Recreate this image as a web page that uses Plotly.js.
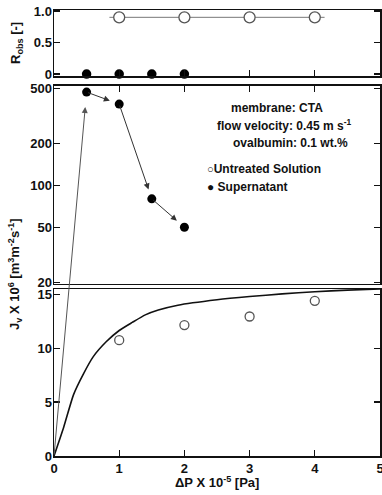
<!DOCTYPE html>
<html>
<head>
<meta charset="utf-8">
<script src="https://cdn.plot.ly/plotly-3.0.1.min.js"></script>
<style>html,body{margin:0;padding:0;background:#fff;}#chart{width:382px;height:495px;}</style>
</head>
<body>
<div id="chart"></div>
<script>
// ---- data ----
const robsUntreatedX = [1, 2, 3, 4];
const robsUntreatedY = [0.9, 0.9, 0.9, 0.9];
const robsFitX = [0.85, 4.15];
const robsFitY = [0.9, 0.9];
const robsSuperX = [0.5, 1, 1.5, 2];
const robsSuperY = [0, 0, 0, 0];

const superX = [0.5, 1, 1.5, 2];
const superJ = [470, 385, 80, 50];

const untreatedX = [1, 2, 3, 4];
const untreatedJ = [10.75, 12.15, 12.95, 14.4];

const curveX = [0, 0.15, 0.3, 0.45, 0.6, 0.8, 1.0, 1.2, 1.4, 1.6, 1.9, 2.5, 3.0, 3.5, 4.0, 4.5, 5.0];
const curveJ = [0, 2.7, 5.7, 7.6, 9.2, 10.6, 11.65, 12.4, 13.1, 13.55, 14.0, 14.5, 14.8, 15.05, 15.25, 15.4, 15.5];

const xTicks = [0, 1, 2, 3, 4, 5];
const robsTicks = [0, 0.5, 1];
const robsTickText = ['0', '0.5', '1.0'];
const midTicks = [20, 50, 100, 200, 500];
const lowTicks = [0, 5, 10, 15];

// ---- layout constants ----
const W = 382, H = 495;
const M = {l: 54, r: 2, t: 10, b: 39, pad: 0};
const plotH = H - M.t - M.b, plotW = W - M.l - M.r;
const domLow = [0, 0.3744], domMid = [0.3857, 0.8296], domTop = [0.852, 1];
const rangeLow = [0, 15.5];
const rangeMid = [Math.log10(19.5), Math.log10(520)];
const rangeTop = [-0.03, 1.016];
const xRange = [0, 5];

const FONT = '"Liberation Sans", Arial, Helvetica, sans-serif';
const tickFont = {family: FONT, size: 13, color: '#111', weight: 700};

function xPix(v) { return M.l + (v - xRange[0]) / (xRange[1] - xRange[0]) * plotW; }
function yPixLow(v) {
  const f = domLow[0] + (v - rangeLow[0]) / (rangeLow[1] - rangeLow[0]) * (domLow[1] - domLow[0]);
  return M.t + (1 - f) * plotH;
}
function yPixMid(v) {
  const f = domMid[0] + (Math.log10(v) - rangeMid[0]) / (rangeMid[1] - rangeMid[0]) * (domMid[1] - domMid[0]);
  return M.t + (1 - f) * plotH;
}

const xBase = {range: xRange, showgrid: false, zeroline: false, showline: true, linecolor: '#111', linewidth: 1.5,
  mirror: true, ticks: 'inside', ticklen: 6, tickwidth: 1.3, tickcolor: '#111', tickvals: xTicks, tickfont: tickFont,
  ticklabeloverflow: 'allow'};
const yBase = {showgrid: false, zeroline: false, showline: true, linecolor: '#111', linewidth: 1.5,
  mirror: 'ticks', ticks: 'inside', ticklen: 6, tickwidth: 1.3, tickcolor: '#111', tickfont: tickFont, ticklabelstandoff: -2};

const traces = [
  {x: curveX, y: curveJ, xaxis: 'x', yaxis: 'y', mode: 'lines', line: {color: '#111', width: 1.6, shape: 'spline', smoothing: 0.6}, hoverinfo: 'skip'},
  {x: untreatedX, y: untreatedJ, xaxis: 'x', yaxis: 'y', mode: 'markers',
    marker: {symbol: 'circle-open', size: 9, color: '#555', line: {width: 1.3}}},
  {x: superX, y: superJ, xaxis: 'x2', yaxis: 'y2', mode: 'markers', cliponaxis: false,
    marker: {symbol: 'circle', size: 9, color: '#000'}},
  {x: robsFitX, y: robsFitY, xaxis: 'x3', yaxis: 'y3', mode: 'lines', line: {color: '#777', width: 1}},
  {x: robsUntreatedX, y: robsUntreatedY, xaxis: 'x3', yaxis: 'y3', mode: 'markers', cliponaxis: false,
    marker: {symbol: 'circle', size: 11, color: '#fff', line: {color: '#555', width: 1.3}}},
  {x: robsSuperX, y: robsSuperY, xaxis: 'x3', yaxis: 'y3', mode: 'markers', cliponaxis: false,
    marker: {symbol: 'circle', size: 9.5, color: '#000'}}
];

const annotations = [];
// arrows between consecutive supernatant points
for (let i = 1; i < superX.length; i++) {
  annotations.push({xref: 'x2', yref: 'y2', axref: 'x2', ayref: 'y2',
    x: superX[i], y: Math.log10(superJ[i]), ax: superX[i - 1], ay: Math.log10(superJ[i - 1]),
    text: '', showarrow: true, arrowhead: 2, arrowsize: 1.2, arrowwidth: 1, arrowcolor: '#333', standoff: 10});
}
// rising line from origin (lower panel) up to the first supernatant point (middle panel)
{
  const px0 = xPix(0), py0 = yPixLow(0);
  const px1 = xPix(superX[0]), py1 = yPixMid(superJ[0]);
  annotations.push({xref: 'x2', yref: 'y2', x: superX[0], y: Math.log10(superJ[0]),
    ax: px0 - px1, ay: py0 - py1, text: '', showarrow: true, arrowhead: 2, arrowsize: 1.2,
    arrowwidth: 1, arrowcolor: '#555', standoff: 15});
}
// notes
const noteFont = {family: FONT, size: 12, color: '#111', weight: 700};
annotations.push(
  {xref: 'x2', yref: 'y2 domain', x: 3.42, y: 0.889, text: 'membrane: CTA', showarrow: false, xanchor: 'center', yanchor: 'middle', font: noteFont},
  {xref: 'x2', yref: 'y2 domain', x: 3.53, y: 0.803, text: 'flow velocity: 0.45 m s<sup>-1</sup>', showarrow: false, xanchor: 'center', yanchor: 'middle', font: noteFont},
  {xref: 'x2', yref: 'y2 domain', x: 3.62, y: 0.712, text: 'ovalbumin: 0.1 wt.%', showarrow: false, xanchor: 'center', yanchor: 'middle', font: noteFont},
  {xref: 'x2', yref: 'y2 domain', x: 2.31, y: 0.581, text: '<span style="font-size:11px">○</span>Untreated Solution', showarrow: false, xanchor: 'left', yanchor: 'middle', font: noteFont},
  {xref: 'x2', yref: 'y2 domain', x: 2.31, y: 0.49, text: '● Supernatant', showarrow: false, xanchor: 'left', yanchor: 'middle', font: noteFont}
);
// axis titles
annotations.push(
  {xref: 'paper', yref: 'paper', x: (17 - M.l) / plotW, y: (H - M.b - 43) / plotH, textangle: -90,
    text: 'R<sub>obs</sub> [-]', showarrow: false, xanchor: 'center', yanchor: 'middle', font: {family: FONT, size: 13, color: '#111', weight: 700}},
  {xref: 'paper', yref: 'paper', x: (15 - M.l) / plotW, y: (H - M.b - 274) / plotH, textangle: -90,
    text: 'J<sub>v</sub> X 10<sup>6</sup> [m<sup>3</sup>m<sup>-2</sup>s<sup>-1</sup>]', showarrow: false, xanchor: 'center', yanchor: 'middle', font: {family: FONT, size: 13, color: '#111', weight: 700}},
  {xref: 'paper', yref: 'paper', x: 0.5, y: (H - M.b - 482) / plotH,
    text: 'ΔP X 10<sup>-5</sup> [Pa]', showarrow: false, xanchor: 'center', yanchor: 'middle', font: {family: FONT, size: 13, color: '#111', weight: 700}}
);

const layout = {
  width: W, height: H, margin: M, showlegend: false,
  paper_bgcolor: '#fff', plot_bgcolor: '#fff',
  font: {family: FONT, color: '#111'},
  xaxis: Object.assign({}, xBase, {anchor: 'y', showticklabels: true}),
  xaxis2: Object.assign({}, xBase, {anchor: 'y2', side: 'top', showticklabels: false}),
  xaxis3: Object.assign({}, xBase, {anchor: 'y3', showticklabels: false}),
  yaxis: Object.assign({}, yBase, {anchor: 'x', domain: domLow, range: rangeLow, tickvals: lowTicks}),
  yaxis2: Object.assign({}, yBase, {anchor: 'x2', domain: domMid, type: 'log', range: rangeMid, tickvals: midTicks, ticktext: midTicks.map(String)}),
  yaxis3: Object.assign({}, yBase, {anchor: 'x3', domain: domTop, range: rangeTop, tickvals: robsTicks, ticktext: robsTickText}),
  annotations: annotations
};

Plotly.newPlot('chart', traces, layout, {staticPlot: true, displayModeBar: false});
</script>
</body>
</html>
